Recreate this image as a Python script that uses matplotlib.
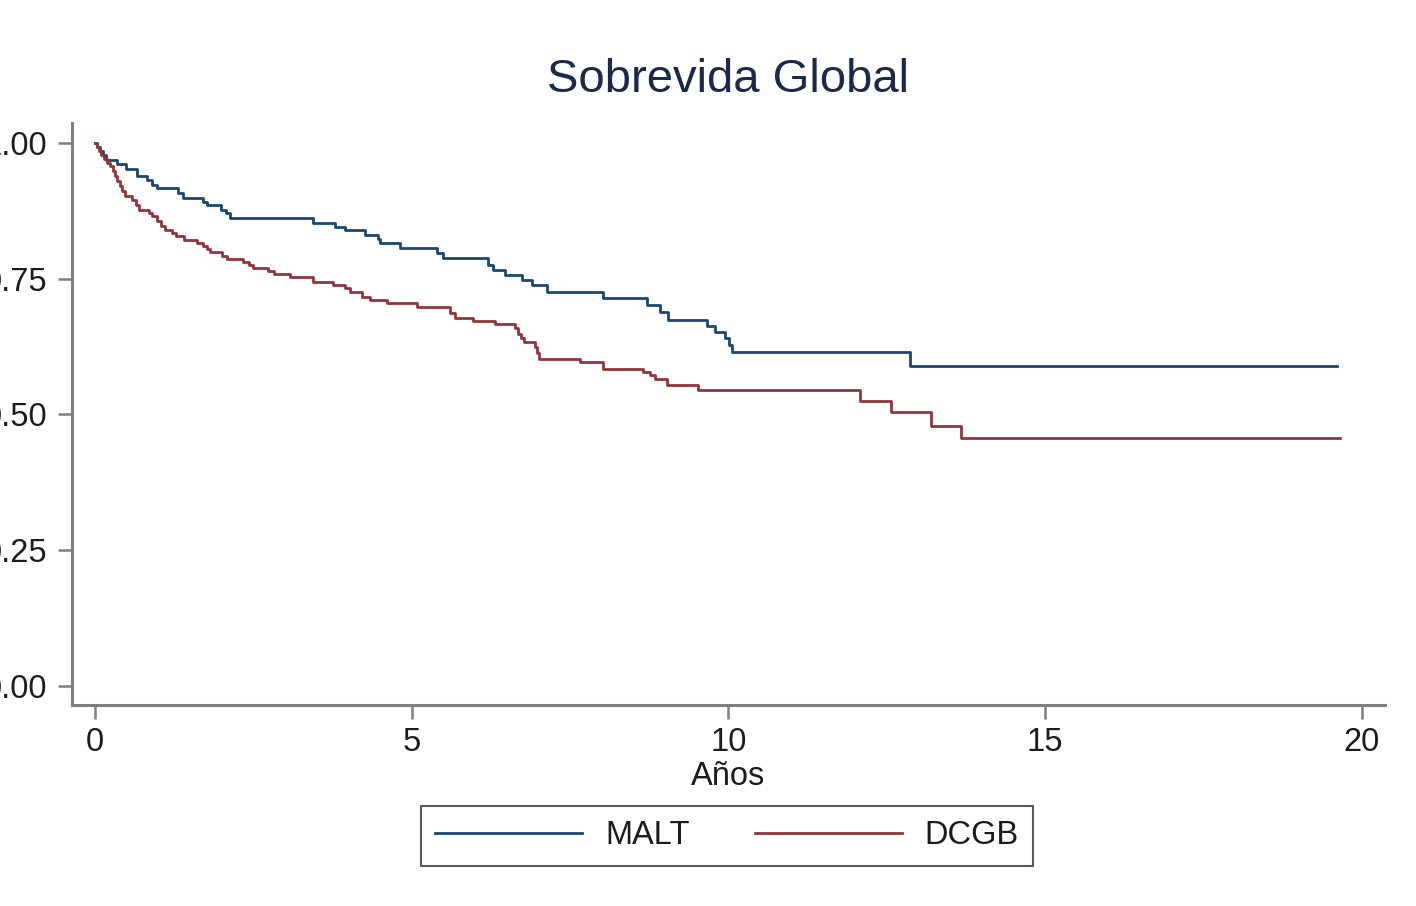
import matplotlib
matplotlib.use("Agg")
import matplotlib.pyplot as plt
import numpy as np

# Kaplan-Meier: (tiempo del evento en años, supervivencia tras el evento)
malt_t = [0.032, 0.079, 0.126, 0.174, 0.347, 0.489, 0.663, 0.821, 0.900, 0.979,
          1.310, 1.389, 1.705, 1.768, 1.989, 2.068, 2.131, 3.441, 3.788, 3.946,
          4.262, 4.467, 4.499, 4.815, 5.399, 5.493, 6.204, 6.283, 6.472, 6.740,
          6.898, 7.135, 8.019, 8.713, 8.919, 9.045, 9.661, 9.787, 9.945, 10.008,
          10.055, 12.865]
malt_s = [0.993, 0.985, 0.978, 0.969, 0.961, 0.952, 0.939, 0.932, 0.923, 0.917,
          0.908, 0.899, 0.891, 0.886, 0.877, 0.871, 0.862, 0.853, 0.846, 0.840,
          0.831, 0.823, 0.816, 0.807, 0.797, 0.788, 0.775, 0.766, 0.757, 0.748,
          0.738, 0.726, 0.715, 0.702, 0.689, 0.674, 0.662, 0.652, 0.641, 0.628,
          0.615, 0.589]
malt_end = 19.61

dcgb_t = [0.032, 0.063, 0.095, 0.142, 0.189, 0.237, 0.284, 0.316, 0.347, 0.395,
          0.426, 0.474, 0.584, 0.647, 0.695, 0.852, 0.900, 0.979, 1.042, 1.105,
          1.215, 1.279, 1.405, 1.610, 1.705, 1.768, 1.815, 2.005, 2.084, 2.336,
          2.431, 2.494, 2.731, 2.826, 3.078, 3.441, 3.757, 3.946, 4.025, 4.215,
          4.341, 4.609, 5.083, 5.604, 5.683, 5.967, 6.314, 6.630, 6.677, 6.725,
          6.772, 6.946, 6.977, 7.009, 7.656, 8.019, 8.650, 8.761, 8.840, 9.029,
          9.519, 12.076, 12.565, 13.197, 13.670]
dcgb_s = [0.993, 0.985, 0.978, 0.971, 0.963, 0.958, 0.948, 0.939, 0.930, 0.921,
          0.912, 0.902, 0.895, 0.886, 0.877, 0.871, 0.866, 0.856, 0.847, 0.840,
          0.834, 0.829, 0.821, 0.816, 0.810, 0.805, 0.799, 0.792, 0.786, 0.781,
          0.775, 0.770, 0.764, 0.759, 0.753, 0.744, 0.738, 0.733, 0.726, 0.717,
          0.711, 0.705, 0.698, 0.686, 0.678, 0.672, 0.667, 0.659, 0.648, 0.640,
          0.634, 0.624, 0.613, 0.602, 0.597, 0.584, 0.578, 0.572, 0.565, 0.554,
          0.545, 0.525, 0.505, 0.479, 0.457]
dcgb_end = 19.65

x_ticks = [0, 5, 10, 15, 20]
y_ticks = [0.00, 0.25, 0.50, 0.75, 1.00]

BLUE = "#1a476f"
RED = "#90353b"
AXIS_GRAY = "#7f7f7f"
TEXT = "#1c1c1c"
FS = 23.5

plt.rcParams["font.family"] = ["Liberation Sans", "DejaVu Sans"]


def km_curve(times, surv, t_end):
    t = np.concatenate([[0.0], times, [t_end]])
    s = np.concatenate([[1.0], surv, [surv[-1]]])
    return t, s


fig = plt.figure(figsize=(14.16, 9.06), dpi=100)
ax = fig.add_axes([0.0508, 0.2219, 0.9273, 0.6424])

for times, surv, t_end, col, lbl in (
    (malt_t, malt_s, malt_end, BLUE, "MALT"),
    (dcgb_t, dcgb_s, dcgb_end, RED, "DCGB"),
):
    t, s = km_curve(times, surv, t_end)
    ax.step(t, s, where="post", color=col, lw=2.0, label=lbl)

ax.set_xlim(-0.363, 20.363)
ax.set_ylim(-0.035, 1.0368)
ax.set_xticks(x_ticks)
ax.set_xticklabels([str(v) for v in x_ticks])
ax.set_yticks(y_ticks)
ax.set_yticklabels([f"{v:.2f}" for v in y_ticks])

for side in ("top", "right"):
    ax.spines[side].set_visible(False)
for side in ("left", "bottom"):
    ax.spines[side].set_color(AXIS_GRAY)
    ax.spines[side].set_linewidth(2.2)

ax.tick_params(axis="both", direction="out", length=10, width=1.8,
               color=AXIS_GRAY, labelsize=FS, labelcolor=TEXT)
ax.tick_params(axis="y", pad=8)
ax.tick_params(axis="x", pad=6)

ax.set_xlabel("Años", fontsize=FS, color=TEXT, labelpad=2)

fig.text(0.514, 0.912, "Sobrevida Global", ha="center", va="center",
         fontsize=34, color="#1b2a4a")

leg = fig.legend(loc="center", bbox_to_anchor=(0.5134, 0.0775), ncol=2,
                 fontsize=FS, handlelength=4.5, handletextpad=0.7,
                 columnspacing=2.0, borderpad=0.45, borderaxespad=0,
                 frameon=True, fancybox=False)
leg.get_frame().set_edgecolor("#333333")
leg.get_frame().set_linewidth(1.5)
for txt in leg.get_texts():
    txt.set_color(TEXT)

fig.savefig("out.png", dpi=100, facecolor="white")
